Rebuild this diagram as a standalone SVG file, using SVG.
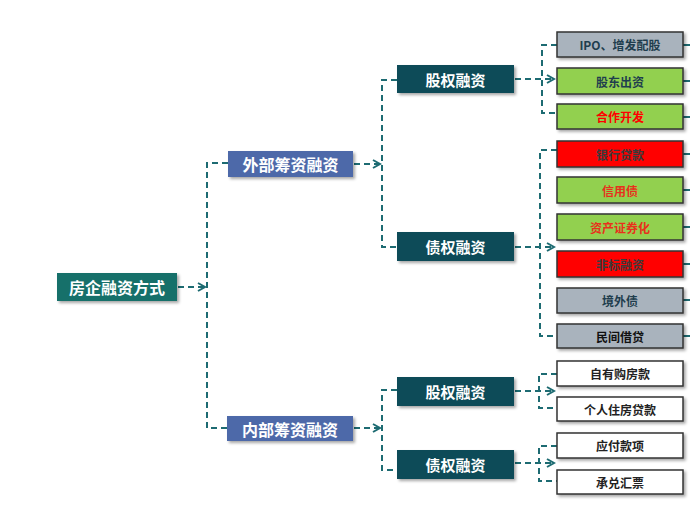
<svg xmlns="http://www.w3.org/2000/svg" width="690" height="520" viewBox="0 0 690 520">
<defs>
<style>
.c{fill:none;stroke:#1d6b72;stroke-width:2;stroke-dasharray:6 4}
.s{fill:none;stroke:#1d6b72;stroke-width:2}
.t{font-family:"Noto Sans CJK SC","Noto Sans",sans-serif;font-weight:bold;text-anchor:middle;dominant-baseline:central}
.w{fill:#fff;font-size:16px}
.m{fill:#fff;font-size:15px}
.l{font-size:12px}
.b{stroke:#333;stroke-width:1.5}
.gy{fill:#a9b3bd}
.gn{fill:#92d050}
.rd{fill:#ff0000}
.wt{fill:#fff}
</style>
<filter id="sh" x="-10%" y="-20%" width="125%" height="150%">
<feDropShadow dx="2" dy="2" stdDeviation="1.5" flood-color="#000" flood-opacity="0.35"/>
</filter>
<marker id="ar" markerWidth="10" markerHeight="10" refX="8" refY="5" orient="auto" markerUnits="userSpaceOnUse">
<polyline points="1,1 8,5 1,9" fill="none" stroke="#1d6b72" stroke-width="2"/>
</marker>
</defs>

<g id="connectors">
<path class="c" d="M178,287 H205" marker-end="url(#ar)"/>
<path class="c" d="M228,163 H207 V428 H227"/>
<path class="c" d="M354,164 H380" marker-end="url(#ar)"/>
<path class="c" d="M397,80 H382 V247 H397"/>
<path class="c" d="M515,79 H554" marker-end="url(#ar)"/>
<path class="c" d="M557,45 H542 V113 H557"/>
<path class="c" d="M515,247 H554" marker-end="url(#ar)"/>
<path class="c" d="M557,150 H540 V336 H557"/>
<path class="c" d="M354,428 H380" marker-end="url(#ar)"/>
<path class="c" d="M397,390 H382 V470 H397"/>
<path class="c" d="M515,391 H554" marker-end="url(#ar)"/>
<path class="c" d="M557,374 H539 V408 H557"/>
<path class="c" d="M515,463 H554" marker-end="url(#ar)"/>
<path class="c" d="M557,446 H539 V481 H557"/>
<path class="s" d="M683,45 H690 M683,81 H690 M683,117 H690 M683,154 H690 M683,190 H690 M683,227 H690 M683,264 H690 M683,300 H690 M683,336 H690"/>
</g>

<g id="root">
<rect x="57" y="273" width="120" height="28" fill="#12706a" filter="url(#sh)"/>
<text class="t w" x="117" y="287">房企融资方式</text>
</g>

<g id="external">
<rect x="228" y="151" width="125" height="26" fill="#4e69a9" filter="url(#sh)"/>
<text class="t w" x="290.5" y="164">外部筹资融资</text>
</g>
<g id="internal">
<rect x="227" y="416" width="126" height="25" fill="#4e69a9" filter="url(#sh)"/>
<text class="t w" x="290" y="428.5">内部筹资融资</text>
</g>

<g id="equity-top">
<rect x="397" y="65" width="117" height="28" fill="#0d4b58" filter="url(#sh)"/>
<text class="t m" x="455.5" y="79">股权融资</text>
</g>
<g id="debt-top">
<rect x="397" y="232" width="117" height="29" fill="#0d4b58" filter="url(#sh)"/>
<text class="t m" x="455.5" y="246.5">债权融资</text>
</g>
<g id="equity-bottom">
<rect x="397" y="377" width="117" height="29" fill="#0d4b58" filter="url(#sh)"/>
<text class="t m" x="455.5" y="391.5">股权融资</text>
</g>
<g id="debt-bottom">
<rect x="397" y="450" width="117" height="29" fill="#0d4b58" filter="url(#sh)"/>
<text class="t m" x="455.5" y="464.5">债权融资</text>
</g>

<g id="leaf-ipo">
<rect class="b gy" x="557" y="32" width="126" height="25" filter="url(#sh)"/>
<text class="t l" x="620" y="44.5" fill="#1f3e4e">IPO、增发配股</text>
</g>
<g id="leaf-gudong">
<rect class="b gn" x="557" y="68" width="126" height="26" filter="url(#sh)"/>
<text class="t l" x="620" y="81" fill="#1f3e4e">股东出资</text>
</g>
<g id="leaf-hezuo">
<rect class="b gn" x="557" y="104" width="126" height="25" filter="url(#sh)"/>
<text class="t l" x="620" y="116.5" fill="#ff0000">合作开发</text>
</g>
<g id="leaf-yinhang">
<rect class="b rd" x="557" y="141" width="126" height="26" filter="url(#sh)"/>
<text class="t l" x="620" y="154" fill="#3a3a3a">银行贷款</text>
</g>
<g id="leaf-xinyong">
<rect class="b gn" x="557" y="177" width="126" height="26" filter="url(#sh)"/>
<text class="t l" x="620" y="190" fill="#e8301c">信用债</text>
</g>
<g id="leaf-zichan">
<rect class="b gn" x="557" y="214" width="126" height="26" filter="url(#sh)"/>
<text class="t l" x="620" y="227" fill="#e8301c">资产证券化</text>
</g>
<g id="leaf-feibiao">
<rect class="b rd" x="557" y="251" width="126" height="26" filter="url(#sh)"/>
<text class="t l" x="620" y="264" fill="#3a3a3a">非标融资</text>
</g>
<g id="leaf-jingwai">
<rect class="b gy" x="557" y="288" width="126" height="25" filter="url(#sh)"/>
<text class="t l" x="620" y="300.5" fill="#1f3e4e">境外债</text>
</g>
<g id="leaf-minjian">
<rect class="b gy" x="557" y="324" width="126" height="24" filter="url(#sh)"/>
<text class="t l" x="620" y="336" fill="#111">民间借贷</text>
</g>

<g id="leaf-ziyou">
<rect class="b wt" x="557" y="361" width="126" height="25" filter="url(#sh)"/>
<text class="t l" x="620" y="373.5" fill="#222">自有购房款</text>
</g>
<g id="leaf-geren">
<rect class="b wt" x="557" y="397" width="126" height="24" filter="url(#sh)"/>
<text class="t l" x="620" y="409" fill="#222">个人住房贷款</text>
</g>
<g id="leaf-yingfu">
<rect class="b wt" x="557" y="433" width="126" height="25" filter="url(#sh)"/>
<text class="t l" x="620" y="445.5" fill="#222">应付款项</text>
</g>
<g id="leaf-chengdui">
<rect class="b wt" x="557" y="470" width="126" height="24" filter="url(#sh)"/>
<text class="t l" x="620" y="482" fill="#222">承兑汇票</text>
</g>
</svg>
